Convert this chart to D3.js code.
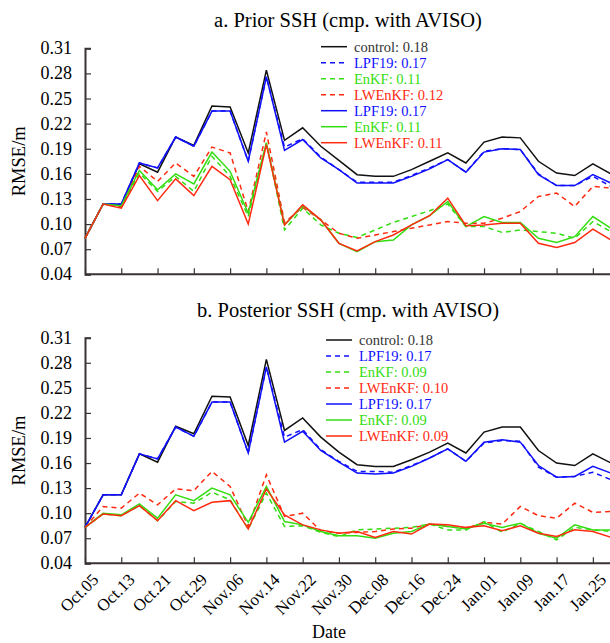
<!DOCTYPE html>
<html>
<head>
<meta charset="utf-8">
<script src="https://cdn.jsdelivr.net/npm/d3@7"></script>
<style>
  body { margin: 0; background: #fff; }
  svg { display: block; font-family: "Liberation Serif", "Times New Roman", serif; }
</style>
</head>
<body>
<div id="chart"></div>
<script>
// days since Oct.05, one value every 4 days
const days = [0,4,8,12,16,20,24,28,32,36,40,44,48,52,56,60,64,68,72,76,80,84,88,92,96,100,104,108,112,116];
const tickDays = [0,8,16,24,32,40,48,56,64,72,80,88,96,104,112];
const tickLabels = ["Oct.05","Oct.13","Oct.21","Oct.29","Nov.06","Nov.14","Nov.22","Nov.30",
                    "Dec.08","Dec.16","Dec.24","Jan.01","Jan.09","Jan.17","Jan.25"];
const yTicks = [0.04,0.07,0.10,0.13,0.16,0.19,0.22,0.25,0.28,0.31];

// a. prior
const priorControl  = [0.083,0.124,0.123,0.172,0.162,0.204,0.194,0.241,0.240,0.185,0.284,0.200,0.215,0.193,0.176,0.159,0.157,0.157,0.165,0.175,0.185,0.173,0.198,0.204,0.203,0.175,0.161,0.158,0.172,0.160];
const priorLpfDash  = [0.083,0.124,0.124,0.173,0.167,0.204,0.193,0.235,0.235,0.175,0.276,0.192,0.202,0.180,0.165,0.150,0.150,0.150,0.158,0.167,0.177,0.162,0.187,0.190,0.189,0.160,0.146,0.146,0.157,0.145];
const priorEnkfDash = [0.083,0.124,0.121,0.161,0.139,0.157,0.139,0.181,0.157,0.109,0.197,0.093,0.119,0.099,0.089,0.084,0.093,0.102,0.109,0.116,0.124,0.097,0.097,0.090,0.093,0.091,0.089,0.083,0.103,0.091];
const priorLwDash   = [0.083,0.124,0.120,0.169,0.151,0.173,0.157,0.192,0.185,0.115,0.210,0.102,0.120,0.105,0.089,0.083,0.087,0.091,0.095,0.099,0.103,0.101,0.101,0.107,0.115,0.133,0.137,0.121,0.145,0.143];
const priorLpf      = [0.083,0.124,0.124,0.173,0.167,0.204,0.193,0.235,0.235,0.175,0.276,0.188,0.201,0.179,0.165,0.149,0.149,0.149,0.157,0.166,0.177,0.162,0.186,0.190,0.189,0.159,0.146,0.146,0.159,0.149];
const priorEnkf     = [0.083,0.124,0.122,0.164,0.141,0.160,0.148,0.186,0.163,0.113,0.197,0.099,0.122,0.105,0.077,0.067,0.079,0.081,0.099,0.110,0.127,0.097,0.109,0.102,0.102,0.083,0.078,0.085,0.109,0.095];
const priorLw       = [0.083,0.124,0.119,0.158,0.128,0.154,0.134,0.169,0.153,0.100,0.195,0.099,0.123,0.105,0.077,0.068,0.079,0.087,0.099,0.110,0.131,0.098,0.099,0.101,0.101,0.077,0.072,0.078,0.094,0.081];

// b. posterior
const postControl  = [0.083,0.122,0.122,0.171,0.161,0.204,0.195,0.240,0.239,0.181,0.284,0.199,0.214,0.191,0.173,0.158,0.156,0.156,0.164,0.173,0.184,0.172,0.197,0.203,0.203,0.175,0.160,0.157,0.171,0.160];
const postLpfDash  = [0.083,0.122,0.122,0.171,0.165,0.203,0.192,0.233,0.233,0.172,0.275,0.191,0.200,0.176,0.162,0.150,0.150,0.149,0.157,0.166,0.177,0.162,0.184,0.187,0.186,0.155,0.143,0.144,0.149,0.140];
const postEnkfDash = [0.083,0.099,0.097,0.109,0.091,0.114,0.112,0.125,0.116,0.081,0.124,0.084,0.085,0.077,0.072,0.080,0.081,0.082,0.083,0.087,0.080,0.080,0.090,0.077,0.088,0.078,0.068,0.083,0.080,0.078];
const postLwDash   = [0.083,0.108,0.106,0.124,0.110,0.129,0.127,0.150,0.132,0.084,0.146,0.096,0.100,0.079,0.076,0.077,0.078,0.081,0.082,0.087,0.084,0.082,0.089,0.087,0.108,0.097,0.094,0.112,0.101,0.102];
const postLpf      = [0.083,0.122,0.122,0.171,0.165,0.203,0.192,0.233,0.233,0.172,0.275,0.185,0.198,0.175,0.161,0.148,0.147,0.148,0.156,0.166,0.177,0.162,0.185,0.188,0.185,0.157,0.143,0.144,0.156,0.148];
const postEnkf     = [0.083,0.100,0.098,0.111,0.094,0.122,0.115,0.130,0.122,0.089,0.132,0.090,0.086,0.078,0.073,0.073,0.070,0.076,0.078,0.087,0.084,0.081,0.088,0.083,0.088,0.076,0.070,0.086,0.080,0.080];
const postLw       = [0.083,0.099,0.097,0.109,0.091,0.115,0.103,0.113,0.115,0.081,0.129,0.098,0.086,0.080,0.076,0.078,0.071,0.078,0.075,0.087,0.086,0.083,0.085,0.079,0.085,0.076,0.072,0.080,0.078,0.071];

const names  = ["control","LPF19","EnKF","LWEnKF","LPF19","EnKF","LWEnKF"];
const priorScores = ["0.18","0.17","0.11","0.12","0.17","0.11","0.11"];
const postScores  = ["0.18","0.17","0.09","0.10","0.17","0.09","0.09"];
const colors = ["#111111","#1010ff","#33dd11","#ff2a10","#1010ff","#33dd11","#ff2a10"];
const dashed = [false,true,true,true,false,false,false];

const width = 610, height = 643;
const svg = d3.select("#chart").append("svg")
    .attr("width", width)
    .attr("height", height);

const x = d3.scaleLinear().domain([0, 116]).range([85, 611]);

function panel(title, series, scores, top, bottom, legendX, legendY, showDates) {
    const y = d3.scaleLinear().domain([0.04, 0.31]).range([bottom, top]);
    const g = svg.append("g");

    g.append("text")
        .attr("x", 348).attr("y", top - 21)
        .attr("text-anchor", "middle")
        .style("font-size", "20.5px")
        .text(title);

    // y axis, ticks inward
    const yAxis = g.append("g")
        .attr("transform", "translate(85,0)")
        .call(d3.axisRight(y).tickValues(yTicks).tickSize(6).tickFormat(""));
    yAxis.select(".domain").attr("stroke", "#3a3333").attr("stroke-width", 2);
    yAxis.selectAll(".tick line").attr("stroke", "#3a3333").attr("stroke-width", 1.2);

    g.selectAll(".ylab")
        .data(yTicks)
        .enter().append("text")
        .attr("x", 72).attr("y", d => y(d) + 6)
        .attr("text-anchor", "end")
        .style("font-size", "18px")
        .text(d => d3.format(".2f")(d));

    g.append("text")
        .attr("transform", `translate(25,${(top + bottom) / 2}) rotate(-90)`)
        .attr("text-anchor", "middle")
        .style("font-size", "18.5px")
        .text("RMSE/m");

    // x axis, ticks inward
    const xAxis = g.append("g")
        .attr("transform", `translate(0,${bottom})`)
        .call(d3.axisTop(x).tickValues(tickDays).tickSize(6).tickFormat(""));
    xAxis.select(".domain").attr("d", `M85,0H611`).attr("stroke", "#3a3333").attr("stroke-width", 2);
    xAxis.selectAll(".tick line").attr("stroke", "#3a3333").attr("stroke-width", 1.2);

    if (showDates) {
        g.selectAll(".xlab")
            .data(tickDays)
            .enter().append("text")
            .attr("transform", d => `translate(${x(d) + 6},${bottom + 9}) rotate(-45)`)
            .attr("text-anchor", "end")
            .attr("dy", "0.7em")
            .style("font-size", "17px")
            .text((d, i) => tickLabels[i]);
    }

    const line = d3.line()
        .x((d, i) => x(days[i]))
        .y(d => y(d));

    series.forEach((s, k) => {
        g.append("path")
            .datum(s)
            .attr("d", line)
            .attr("fill", "none")
            .attr("stroke", colors[k])
            .attr("stroke-width", 1.5)
            .attr("stroke-dasharray", dashed[k] ? "5,4" : null);
    });

    // legend
    const leg = g.append("g");
    names.forEach((n, k) => {
        const ly = legendY + k * 16;
        leg.append("line")
            .attr("x1", legendX).attr("x2", legendX + 26)
            .attr("y1", ly).attr("y2", ly)
            .attr("stroke", colors[k])
            .attr("stroke-width", 1.5)
            .attr("stroke-dasharray", dashed[k] ? "5,4" : null);
        leg.append("text")
            .attr("x", legendX + 33).attr("y", ly + 5)
            .attr("fill", k === 0 ? "#333" : colors[k])
            .style("font-size", "14.5px")
            .text(n + ": " + scores[k]);
    });
}

panel("a. Prior SSH (cmp. with AVISO)",
      [priorControl, priorLpfDash, priorEnkfDash, priorLwDash, priorLpf, priorEnkf, priorLw],
      priorScores, 48.3, 274.3, 321, 46.7, false);

panel("b. Posterior SSH (cmp. with AVISO)",
      [postControl, postLpfDash, postEnkfDash, postLwDash, postLpf, postEnkf, postLw],
      postScores, 337.7, 563.3, 326, 340, true);

svg.append("text")
    .attr("x", 329).attr("y", 638)
    .attr("text-anchor", "middle")
    .style("font-size", "18px")
    .text("Date");
</script>
</body>
</html>
